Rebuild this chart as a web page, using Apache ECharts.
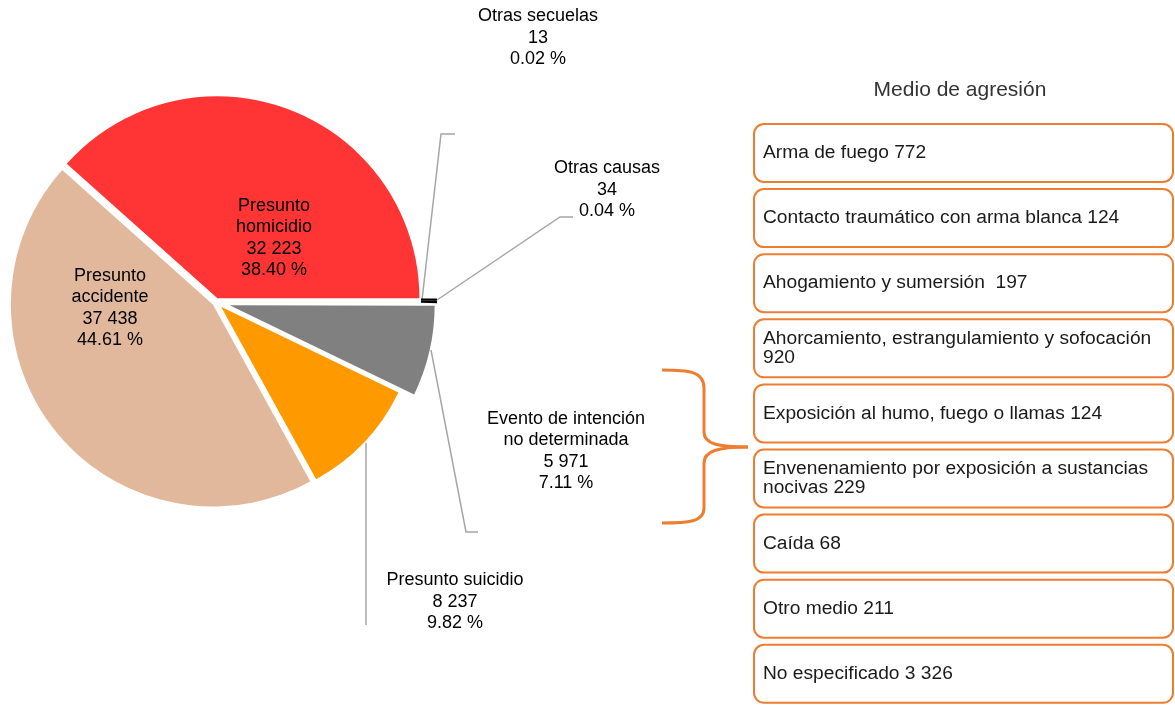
<!DOCTYPE html>
<html>
<head>
<meta charset="utf-8">
<script src="https://cdn.jsdelivr.net/npm/echarts@6/dist/echarts.min.js"></script>
<style>
  html, body { margin: 0; padding: 0; background: #fff; }
  #chart { width: 1175px; height: 705px; }
</style>
</head>
<body>
<div id="chart"></div>
<script>
// Defunciones por tipo de causa
const causes = ['Presunto homicidio', 'Presunto accidente', 'Presunto suicidio',
  'Evento de intención no determinada', 'Otras causas', 'Otras secuelas'];
const causeLabels = ['Presunto\nhomicidio', 'Presunto\naccidente', 'Presunto suicidio',
  'Evento de intención\nno determinada', 'Otras causas', 'Otras secuelas'];
const deaths = [32223, 37438, 8237, 5971, 34, 13];
const shares = [38.40, 44.61, 9.82, 7.11, 0.04, 0.02];

// Desglose del medio de agresión
const meansTitle = 'Medio de agresión';
const means = ['Arma de fuego', 'Contacto traumático con arma blanca', 'Ahogamiento y sumersión ',
  'Ahorcamiento, estrangulamiento y sofocación', 'Exposición al humo, fuego o llamas',
  'Envenenamiento por exposición a sustancias nocivas', 'Caída', 'Otro medio', 'No especificado'];
const meansCount = [772, 124, 197, 920, 124, 229, 68, 211, 3326];

const FONT = "'Liberation Sans', Arial, sans-serif";
const ORANGE_LINE = '#ED7D31';
const sliceColors = ['#FF3535', '#E2B89D', '#FF9900', '#808080', '#000000', '#000000'];
const explode = [4, 4, 7, 14];
const sliceRadius = [202, 202, 197, 205];
const CX = 216, CY = 302;

const fmt = n => String(n).replace(/\B(?=(\d{3})+(?!\d))/g, ' ');

// label anchors and leader-line routes
const labelSpots = [
  { x: 274, y: 238 }, { x: 110, y: 308 }, { x: 455, y: 602 },
  { x: 566, y: 451 }, { x: 607, y: 190 }, { x: 538, y: 38 }
];
const guides = [
  null, null,
  [[366, 443], [366, 533], [366, 625]],
  [[431, 350], [466, 532], [478, 532]],
  [[437, 300], [560, 217], [573, 217]],
  [[422, 300], [441, 134], [455, 134]]
];

const total = deaths.reduce((a, b) => a + b, 0);
let acc = 0;
const mids = deaths.map(v => { const m = (acc + v / 2) / total * 2 * Math.PI; acc += v; return m; });

const labelText = p => causeLabels[p.dataIndex] + '\n' + fmt(p.value) + '\n' + shares[p.dataIndex].toFixed(2) + ' %';

function pieSeries(visible, opts) {
  return Object.assign({
    type: 'pie',
    startAngle: 0,
    clockwise: false,
    silent: true,
    animation: false,
    avoidLabelOverlap: false,
    emphasis: { disabled: true },
    data: deaths.map((v, j) => ({
      name: causes[j],
      value: v,
      itemStyle: { color: visible.includes(j) ? sliceColors[j] : 'rgba(0,0,0,0)' },
      label: { show: visible.includes(j), position: j < 2 ? 'inside' : 'outside' },
      labelLine: { show: visible.includes(j) && !!guides[j] }
    })),
    label: {
      formatter: labelText,
      fontFamily: FONT,
      fontSize: 18,
      lineHeight: 21.5,
      color: '#000',
      align: 'center'
    },
    labelLine: { lineStyle: { color: '#A6A6A6', width: 1.5 } },
    labelLayout: p => {
      if (!visible.includes(p.dataIndex)) return {};
      const s = labelSpots[p.dataIndex];
      const o = { x: s.x, y: s.y, align: 'center', verticalAlign: 'middle' };
      if (guides[p.dataIndex]) o.labelLinePoints = guides[p.dataIndex];
      return o;
    }
  }, opts);
}

const series = [];
for (let i = 0; i < 4; i++) {
  const d = explode[i];
  series.push(pieSeries([i], {
    center: [CX + d * Math.cos(mids[i]), CY - d * Math.sin(mids[i])],
    radius: sliceRadius[i]
  }));
}
// the two smallest slices, drawn as a thin outer band
series.push(pieSeries([4, 5], { center: [CX, 298.5], radius: [205, 221], minAngle: 0.6 }));

const graphics = [{
  type: 'text',
  style: { text: meansTitle, x: 960, y: 90, align: 'center', verticalAlign: 'middle',
    fontFamily: FONT, fontSize: 21, fill: '#333' }
}];
means.forEach((m, k) => {
  const top = 124 + k * 65.1;
  graphics.push({
    type: 'rect',
    shape: { x: 754, y: top, width: 419, height: 58, r: 10 },
    style: { fill: '#fff', stroke: ORANGE_LINE, lineWidth: 2 }
  });
  graphics.push({
    type: 'text',
    style: { text: m + ' ' + fmt(meansCount[k]), x: 763, y: top + 29, verticalAlign: 'middle',
      width: 402, overflow: 'break', fontFamily: FONT, fontSize: 19.2, lineHeight: 19, fill: '#1a1a1a' }
  });
});

// curly brace grouping the boxes on its right
const braceStyle = { stroke: ORANGE_LINE, lineWidth: 3, fill: null };
const braceCurves = [
  [662, 370, 688, 370, 704, 371, 704, 388],
  [704, 432, 704, 444, 718, 447, 748, 447],
  [748, 447, 718, 447, 704, 451, 704, 463],
  [704, 508, 704, 522, 688, 523, 662, 523]
];
braceCurves.forEach(c => graphics.push({
  type: 'bezierCurve',
  shape: { x1: c[0], y1: c[1], cpx1: c[2], cpy1: c[3], cpx2: c[4], cpy2: c[5], x2: c[6], y2: c[7] },
  style: braceStyle
}));
[[388, 432], [463, 508]].forEach(s => graphics.push({
  type: 'line',
  shape: { x1: 704, y1: s[0], x2: 704, y2: s[1] },
  style: braceStyle
}));

const chart = echarts.init(document.getElementById('chart'), null, { renderer: 'canvas' });
chart.setOption({
  backgroundColor: '#fff',
  animation: false,
  series: series,
  graphic: graphics
});
</script>
</body>
</html>
